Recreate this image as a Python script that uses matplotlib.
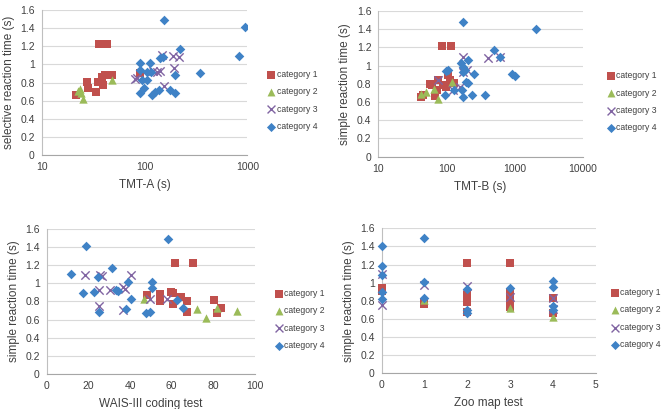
import numpy as np
import matplotlib
matplotlib.use("Agg")
import matplotlib.pyplot as plt
from matplotlib.ticker import FixedLocator, FixedFormatter


# -----------------------------
# DATA
# -----------------------------
categories = ["category 1", "category 2", "category 3", "category 4"]

# panel 1: TMT-A vs selective reaction time
tmta_x = [
    [21.6, 27.5, 28.3, 33.9, 35.4, 38.5, 41.5, 39.6, 48.2, 36.2, 43.4, 89.6],
    [22.5, 23.5, 24.0, 25.0, 48.0],
    [80, 84, 120, 140, 148, 155, 195, 190, 215, 133],
    [156, 960, 828, 350, 223, 140, 89.6, 89.6, 112, 106, 94.6, 106, 98, 91,
     118, 127, 137, 178, 200, 200, 115, 150],
]
tmta_y = [
    [0.66, 0.81, 0.74, 0.69, 0.81, 0.86, 0.88, 0.77, 0.88, 1.22, 1.22, 0.90],
    [0.71, 0.73, 0.68, 0.62, 0.83],
    [0.835, 0.85, 0.93, 0.93, 1.10, 0.76, 0.96, 1.09, 1.08, 0.92],
    [1.49, 1.41, 1.09, 0.90, 1.17, 1.07, 1.02, 0.94, 1.01, 0.92, 0.83, 0.83, 0.74, 0.68,
     0.66, 0.70, 0.72, 0.72, 0.68, 0.88, 0.92, 1.08],
]

# panel 2: TMT-B vs simple reaction time
tmtb_x = [
    [43, 46, 57, 62, 68, 72, 76, 85, 90, 105, 112, 115, 128, 100],
    [43, 51, 66, 76, 120],
    [76, 177, 412, 610, 177, 198, 126, 158],
    [177, 2040, 505, 612, 908, 1000, 99, 162, 177, 205, 177, 195, 210, 254,
     95, 128, 167, 177, 234, 368, 107, 187],
]
tmtb_y = [
    [0.66, 0.68, 0.80, 0.79, 0.67, 0.73, 0.84, 1.22, 0.79, 0.90, 0.84, 1.22, 0.81, 0.77],
    [0.69, 0.71, 0.74, 0.63, 0.82],
    [0.84, 1.10, 1.08, 1.10, 0.93, 0.95, 0.73, 0.77],
    [1.48, 1.40, 1.17, 1.09, 0.91, 0.89, 0.94, 1.03, 0.99, 1.06, 0.93, 0.82, 0.81, 0.91,
     0.68, 0.73, 0.73, 0.66, 0.68, 0.68, 0.95, 0.95],
]

# panel 3: WAIS-III coding test vs simple reaction time
wais_x = [
    [48, 54.4, 54.4, 59.5, 61.6, 60.5, 60.8, 64.5, 67.5, 67.5, 70.4, 80.5, 81.6, 83.6],
    [46.7, 72.3, 76.5, 81.6, 91.5],
    [18.4, 25.1, 25.1, 25.6, 26.4, 30.4, 36.5, 36.5, 37.6, 40.3, 49.6, 57.6],
    [11.5, 18.9, 17.6, 22.7, 24.5, 25.3, 31.5, 33.3, 34.4, 38.1, 39.2, 40.5,
     47.5, 49.6, 50.4, 50.7, 58.4, 62.4, 65.6],
]
wais_y = [
    [0.87, 0.88, 0.81, 0.90, 1.22, 0.77, 0.89, 0.85, 0.80, 0.68, 1.22, 0.82, 0.67, 0.73],
    [0.83, 0.72, 0.62, 0.73, 0.69],
    [1.09, 0.93, 0.75, 1.09, 1.08, 0.93, 0.71, 0.96, 0.94, 1.09, 0.83, 0.83],
    [1.10, 1.41, 0.89, 0.90, 1.07, 0.68, 1.17, 0.93, 0.92, 0.72, 1.02, 0.83,
     0.67, 0.68, 0.95, 1.01, 1.49, 0.82, 0.73],
]

# panel 4: Zoo map test vs simple reaction time
zoo_x = [
    [0, 0, 1, 1, 2, 2, 2, 2, 2, 3, 3, 3, 3, 3, 4, 4],
    [1, 3, 4],
    [0, 0, 1, 2, 3, 4, 4],
    [0, 0, 0, 0, 0, 1, 1, 1, 2, 2, 2, 3, 4, 4, 4, 4],
]
zoo_y = [
    [0.94, 0.91, 0.79, 0.77, 1.22, 0.86, 0.82, 0.79, 0.68, 1.22, 0.90, 0.85, 0.82, 0.73, 0.83, 0.66],
    [0.81, 0.72, 0.62],
    [1.10, 0.75, 0.97, 0.96, 0.84, 0.83, 0.71],
    [1.41, 1.18, 1.09, 0.90, 0.82, 1.49, 1.01, 0.83, 0.93, 0.70, 0.67, 0.94, 1.02, 0.95, 0.74, 0.70],
]

yticks = [0, 0.2, 0.4, 0.6, 0.8, 1, 1.2, 1.4, 1.6]
ytick_labels = ["0", "0.2", "0.4", "0.6", "0.8", "1", "1.2", "1.4", "1.6"]


# -----------------------------
# STYLE
# -----------------------------
plt.rcParams["font.family"] = ["Liberation Sans", "DejaVu Sans"]
txt = "#404040"
colors = ["#C0504D", "#9BBB59", "#8064A2", "#3F82C6"]
markers = ["s", "^", "x", "D"]
sizes = [40, 36, 36, 24]


def style_axes(ax, xlabel, ylabel, leg_gap):
    ax.set_ylim(0, 1.6)
    ax.yaxis.set_major_locator(FixedLocator(yticks))
    ax.yaxis.set_major_formatter(FixedFormatter(ytick_labels))
    ax.grid(axis="y", color="#D9D9D9", linewidth=0.8)
    ax.set_axisbelow(True)
    for s in ["top", "right"]:
        ax.spines[s].set_visible(False)
    ax.spines["left"].set_color("#BFBFBF")
    ax.spines["bottom"].set_color("#A6A6A6")
    ax.tick_params(length=0, labelsize=7.5, colors=txt, pad=5)
    ax.set_xlabel(xlabel, fontsize=8.5, color=txt, labelpad=5)
    ax.set_ylabel(ylabel, fontsize=8.5, color=txt, labelpad=4)
    ax.legend(loc="center left", bbox_to_anchor=(1 + leg_gap, 0.377), frameon=False,
              fontsize=6.2, labelcolor=txt, handletextpad=0.1, borderaxespad=0,
              labelspacing=0.97, handlelength=1.1, markerscale=0.95)


def draw(ax, xs, ys):
    for i in range(4):
        kw = dict(marker=markers[i], s=sizes[i], color=colors[i], label=categories[i])
        if markers[i] == "x":
            kw["linewidths"] = 1.0
        else:
            kw["linewidths"] = 0
        ax.scatter(xs[i], ys[i], zorder=3, **kw)


# -----------------------------
# FIGURE
# -----------------------------
fig = plt.figure(figsize=(6.61, 4.09), dpi=100)

ax1 = fig.add_axes([0.0631, 0.621, 0.311, 0.3545])
draw(ax1, tmta_x, tmta_y)
ax1.set_xscale("log")
ax1.set_xlim(10, 1000)
ax1.xaxis.set_major_locator(FixedLocator([10, 100, 1000]))
ax1.xaxis.set_major_formatter(FixedFormatter(["10", "100", "1000"]))
ax1.xaxis.set_minor_locator(FixedLocator([]))
style_axes(ax1, "TMT-A (s)", "selective reaction time (s)", 0.077)

ax2 = fig.add_axes([0.5723, 0.6169, 0.3092, 0.356])
draw(ax2, tmtb_x, tmtb_y)
ax2.set_xscale("log")
ax2.set_xlim(10, 10000)
ax2.xaxis.set_major_locator(FixedLocator([10, 100, 1000, 10000]))
ax2.xaxis.set_major_formatter(FixedFormatter(["10", "100", "1000", "10000"]))
ax2.xaxis.set_minor_locator(FixedLocator([]))
style_axes(ax2, "TMT-B (s)", "simple reaction time (s)", 0.097)

ax3 = fig.add_axes([0.0706, 0.0856, 0.3152, 0.3545])
draw(ax3, wais_x, wais_y)
ax3.set_xlim(0, 100)
ax3.set_xticks([0, 20, 40, 60, 80, 100])
style_axes(ax3, "WAIS-III coding test", "simple reaction time (s)", 0.074)

ax4 = fig.add_axes([0.5774, 0.0873, 0.3238, 0.3545])
draw(ax4, zoo_x, zoo_y)
ax4.set_xlim(0, 5)
ax4.set_xticks([0, 1, 2, 3, 4, 5])
style_axes(ax4, "Zoo map test", "simple reaction time (s)", 0.05)

for a in [ax3, ax4]:
    for p in a.collections:
        p.set_clip_on(False)

fig.savefig("out.png", dpi=100)
plt.close(fig)
print("Saved: out.png")
